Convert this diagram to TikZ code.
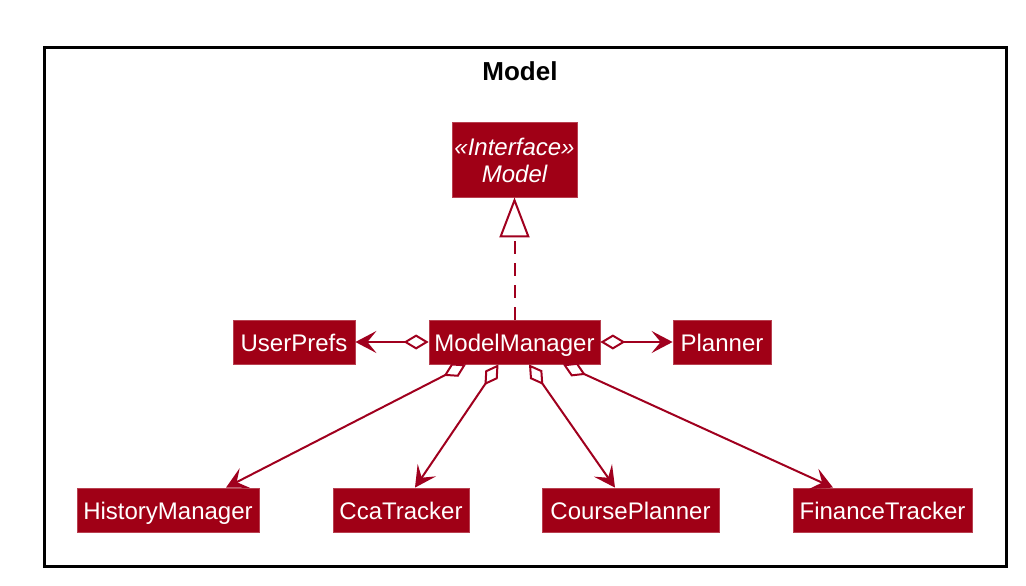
\documentclass[tikz,border=0pt]{standalone}
\usepackage{fontspec}
\setmainfont{Liberation Sans}
\usetikzlibrary{arrows.meta,calc}
\definecolor{boxfill}{RGB}{160,0,22}
\definecolor{lnc}{RGB}{160,0,30}
\begin{document}
\begin{tikzpicture}[x=1pt,y=-1pt,
 cls/.style={fill=boxfill, draw=boxfill!75!white, line width=0.8pt, text=white, inner sep=0pt,
   minimum height=44pt, font=\fontsize{24}{27}\selectfont, text height=18pt, text depth=0pt},
 itxt/.style={text=white, inner sep=0pt, anchor=base, font=\fontsize{24}{27}\selectfont\itshape},
 conn/.style={draw=lnc, line width=2pt},
 agg/.style={conn, {Diamond[open,length=25pt,width=15pt]}-{Stealth[length=21pt,width=22pt,inset=9pt]}},
 real/.style={conn, dash pattern=on 13pt off 9pt, -{Triangle[open,length=40pt,width=30pt]}}
]
\useasboundingbox (0,0) rectangle (1026,586);
\draw[line width=3pt] (44,48) rectangle (1006,566);
\node (title) at (520,71) {\fontsize{26}{30}\selectfont\bfseries Model};

\node (iface) [cls, minimum width=125pt, minimum height=75pt] at (514.5,159.5) {};
\node (ifst) [itxt] at (514.5,155) {«Interface»};
\node (ifnm) [itxt] at (514.5,182) {Model};

\node (mm) [cls, minimum width=171pt] at (514.5,342) {ModelManager};
\node (up) [cls, minimum width=122pt] at (294,342) {UserPrefs};
\node (pl) [cls, minimum width=98pt] at (722,342) {Planner};
\node (hm) [cls, minimum width=182pt] at (168,510) {HistoryManager};
\node (cca) [cls, minimum width=136pt] at (401,510) {CcaTracker};
\node (cp) [cls, minimum width=177pt] at (630.5,510) {CoursePlanner};
\node (ft) [cls, minimum width=179pt] at (882.5,510) {FinanceTracker};

\coordinate (mm1) at ($(mm.south)+(-48.5,0)$);
\coordinate (mm2) at ($(mm.south)+(-16,0)$);
\coordinate (mm3) at ($(mm.south)+(14.5,0)$);
\coordinate (mm4) at ($(mm.south)+(48.5,0)$);
\coordinate (hmt) at ($(hm.north)+(58,0)$);
\coordinate (ccat) at ($(cca.north)+(14,0)$);
\coordinate (cpt) at ($(cp.north)+(-15.5,0)$);
\coordinate (ftt) at ($(ft.north)+(-49.5,0)$);

\draw[real] (mm.north) -- (iface.south);
\draw[agg] (mm.west) -- (up.east);
\draw[agg] (mm.east) -- (pl.west);
\draw[agg] (mm1) -- (hmt);
\draw[agg] (mm2) -- (ccat);
\draw[agg] (mm3) -- (cpt);
\draw[agg] (mm4) -- (ftt);
\end{tikzpicture}
\end{document}
